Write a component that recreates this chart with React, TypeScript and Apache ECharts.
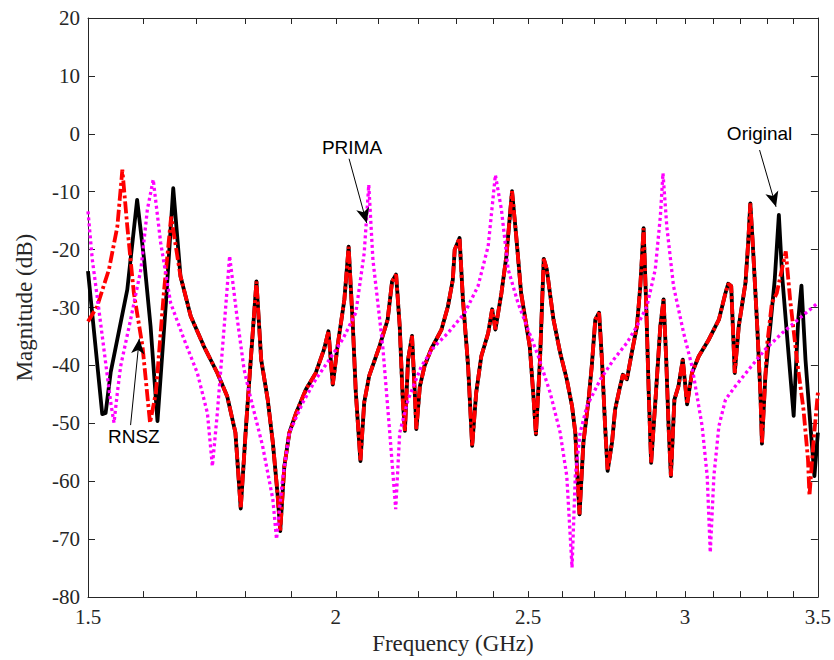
import { useEffect, useRef } from "react";
import * as echarts from "echarts";

// ---------- data (frequency in GHz, magnitude in dB) ----------
const originalLeftFreq = [1.5, 1.525, 1.531, 1.54, 1.57, 1.588, 1.601, 1.613, 1.626, 1.642, 1.656];
const originalLeftMag = [-23.7, -48.4, -48.2, -41.2, -26.9, -11.4, -21.7, -33.2, -49.6, -29.2, -9.4];

const sharedFreq = [
  1.67, 1.69, 1.716, 1.743, 1.763, 1.78, 1.791, 1.802, 1.812, 1.824,
  1.834, 1.848, 1.859, 1.869, 1.875, 1.884, 1.895, 1.91, 1.932, 1.954,
  1.973, 1.983, 1.993, 2.004, 2.02, 2.03, 2.04, 2.047, 2.058, 2.067,
  2.079, 2.104, 2.124, 2.135, 2.145, 2.154, 2.162, 2.167, 2.175, 2.185,
  2.192, 2.196, 2.205, 2.217, 2.234, 2.261, 2.278, 2.291, 2.296, 2.309,
  2.318, 2.332, 2.343, 2.354, 2.368, 2.387, 2.398, 2.407, 2.424, 2.438,
  2.454, 2.466, 2.48, 2.505, 2.515, 2.523, 2.535, 2.546, 2.555, 2.575,
  2.595, 2.615, 2.631, 2.641, 2.648, 2.654, 2.666, 2.682, 2.692, 2.703,
  2.715, 2.724, 2.734, 2.742, 2.756, 2.766, 2.78, 2.791, 2.804, 2.82,
  2.837, 2.848, 2.859, 2.868, 2.876, 2.884, 2.898, 2.915, 2.926, 2.935,
  2.943, 2.951, 2.963, 2.977, 2.992, 3.007, 3.024, 3.048, 3.084, 3.12,
  3.144, 3.154, 3.165, 3.178, 3.193, 3.218, 3.228, 3.236, 3.245, 3.262,
  3.274, 3.28,
];
const sharedMag = [
  -24.6, -31.5, -36.7, -41.3, -45.3, -51.6, -64.7, -50.5, -39, -25.5,
  -39, -45.9, -53.3, -62, -68.6, -57.4, -51.6, -48.2, -44.1, -41.3,
  -37.2, -34.1, -43.3, -36.7, -28.6, -19.5, -33.2, -44.7, -56.5, -46.4,
  -41.8, -36.7, -32.1, -25.5, -24.3, -33.2, -46.4, -51.3, -39, -34.9,
  -44.7, -51, -43.6, -40.1, -37.2, -33.8, -29.8, -25.2, -20, -18,
  -28.6, -40.1, -53.9, -44.7, -38.4, -34.4, -30.3, -33.8, -27.5, -21.1,
  -9.9, -17.7, -27.5, -36.7, -44.7, -51.9, -39, -21.6, -23.4, -32.1,
  -37.8, -42.4, -47, -51.6, -59.7, -65.7, -53.3, -45.9, -40.1, -32.1,
  -30.9, -39, -50.5, -58.2, -53.3, -47.6, -44.1, -41.6, -42.4, -37.8,
  -33.2, -26.3, -16.3, -30.3, -44.7, -56.8, -46.4, -33.2, -28.6, -39,
  -50.5, -59.1, -45.9, -43.6, -39, -46.7, -41.3, -38.4, -35.5, -32.1,
  -27.5, -25.9, -26.3, -41.3, -33.2, -25.7, -18.8, -12, -18.8, -33.2,
  -44.7, -53.5,
];

const originalRightFreq = [3.293, 3.312, 3.329, 3.345, 3.358, 3.377, 3.403, 3.421, 3.434, 3.45, 3.47, 3.486, 3.5];
const originalRightMag = [-41.8, -33.2, -25.2, -14.0, -24.6, -34.9, -48.7, -32.1, -26.2, -39, -50.5, -59.1, -51.6];

const rnszLeftFreq = [1.5, 1.516, 1.537, 1.552, 1.561, 1.57, 1.582, 1.598, 1.612, 1.623, 1.638, 1.652];
const rnszLeftMag = [-32.4, -29.8, -23.4, -16, -6.2, -16, -27.5, -36.7, -49.9, -44.7, -27.5, -14.3];

const rnszRightFreq = [3.299, 3.318, 3.337, 3.354, 3.372, 3.389, 3.416, 3.442, 3.46, 3.466, 3.482, 3.5];
const rnszRightMag = [-36.7, -29.2, -27.5, -24, -20.3, -28.6, -39, -47.6, -56.2, -62.5, -53.3, -44.7];

const primaFreq = [
  1.5, 1.5075, 1.519, 1.534, 1.541, 1.546, 1.552, 1.558, 1.576, 1.595,
  1.607, 1.618, 1.632, 1.651, 1.677, 1.703, 1.723, 1.733, 1.743, 1.757,
  1.768, 1.784, 1.798, 1.809, 1.837, 1.859, 1.867, 1.88, 1.895, 1.925,
  1.954, 1.985, 2.016, 2.047, 2.067, 2.078, 2.088, 2.112, 2.128, 2.144,
  2.154, 2.175, 2.209, 2.243, 2.278, 2.323, 2.359, 2.387, 2.4, 2.407,
  2.424, 2.443, 2.471, 2.5, 2.53, 2.565, 2.595, 2.615, 2.622, 2.631,
  2.641, 2.656, 2.677, 2.719, 2.761, 2.804, 2.837, 2.87, 2.898, 2.915,
  2.924, 2.937, 2.96, 2.995, 3.024, 3.06, 3.078, 3.089, 3.102, 3.12,
  3.144, 3.18, 3.23, 3.293, 3.358, 3.436, 3.5,
];
const primaMag = [
  -13.4, -21.7, -30.3, -41.8, -47, -49.9, -44.7, -40.1, -32.1, -23.4,
  -13.1, -7.9, -18.8, -29.2, -35.5, -41.3, -48.2, -57.4, -48.2, -33.2,
  -21.1, -32.1, -40.7, -44.7, -53.9, -63.1, -70, -59.7, -51.6, -46.4,
  -42.4, -39, -35.5, -30.9, -20.6, -8.8, -21.7, -36.7, -50.5, -64.8,
  -51.6, -45.9, -40.1, -36.7, -34.4, -30.9, -26.3, -19.4, -11.4, -7.1,
  -13.1, -23.4, -29.2, -33.8, -38.4, -44.7, -51.6, -59.1, -66, -74.9,
  -59.1, -51.6, -47, -42.4, -39, -36.1, -33.2, -29.8, -23.4, -14.3,
  -6.8, -16, -26.3, -34.4, -40.1, -50.5, -59.1, -72.3, -59.1, -50.5,
  -45.9, -43.6, -40.7, -37.2, -34.4, -31.5, -29.2,
];

const xMajorTicks = [1.5, 2, 2.5, 3, 3.5];
const xMinorTicks = [
  1.5, 1.6, 1.7, 1.8, 1.9, 2.0, 2.1, 2.2, 2.3, 2.4, 2.5,
  2.6, 2.7, 2.8, 2.9, 3.0, 3.1, 3.2, 3.3, 3.4, 3.5,
];
const yMin = -80;
const yMax = 20;
const yStep = 10;

// annotations (data coordinates: frequency GHz, magnitude dB)
const annotationLabels = ["Original", "PRIMA", "RNSZ"];
const annotationTextPos = [[3.271, 0.0], [2.038, -2.3], [1.582, -52.2]];
const annotationArrowFrom = [[3.271, -2.8], [2.031, -4.3], [1.576, -50.3]];
const annotationArrowTo = [[3.334, -12.6], [2.073, -15.4], [1.592, -35.4]];

const lx = (f: number) => Math.log(f);
const toPoints = (fs: number[], ms: number[]) => fs.map((f, i) => [lx(f), ms[i]]);

export default function App() {
  const ref = useRef<HTMLDivElement>(null);

  useEffect(() => {
    if (!ref.current) return;
    const chart = echarts.init(ref.current, undefined, { renderer: "svg" });

    const originalData = toPoints(
      [...originalLeftFreq, ...sharedFreq, ...originalRightFreq],
      [...originalLeftMag, ...sharedMag, ...originalRightMag]
    );
    const rnszData = toPoints(
      [...rnszLeftFreq, ...sharedFreq, ...rnszRightFreq],
      [...rnszLeftMag, ...sharedMag, ...rnszRightMag]
    );
    const primaData = toPoints(primaFreq, primaMag);

    const axisColor = "#262626";
    const serif = "Liberation Serif";
    const xMin = lx(xMajorTicks[0]);
    const xMax = lx(xMajorTicks[xMajorTicks.length - 1]);

    const xCommon = {
      type: "value",
      min: xMin,
      max: xMax,
      splitLine: { show: false },
      axisLine: { show: true, onZero: false, lineStyle: { color: axisColor, width: 1 } },
      axisTick: {
        show: true,
        inside: true,
        length: 6,
        lineStyle: { color: axisColor },
        customValues: xMinorTicks.map(lx),
      },
    };
    const yCommon = {
      type: "value",
      min: yMin,
      max: yMax,
      interval: yStep,
      splitLine: { show: false },
      axisLine: { show: true, onZero: false, lineStyle: { color: axisColor, width: 1 } },
      axisTick: { show: true, inside: true, length: 7, lineStyle: { color: axisColor } },
    };

    const option: any = {
      animation: false,
      backgroundColor: "#ffffff",
      grid: { left: 88, right: 16, top: 18, bottom: 62, containLabel: false },
      xAxis: [
        {
          ...xCommon,
          position: "bottom",
          name: "Frequency (GHz)",
          nameLocation: "middle",
          nameGap: 34,
          nameTextStyle: { fontFamily: serif, fontSize: 23, color: axisColor },
          axisLabel: {
            show: true,
            margin: 9,
            fontFamily: serif,
            fontSize: 21,
            color: axisColor,
            customValues: xMajorTicks.map(lx),
            formatter: (v: number) => String(Math.round(Math.exp(v) * 10) / 10),
          },
        },
        {
          ...xCommon,
          position: "top",
          axisLabel: { show: false },
        },
      ],
      yAxis: [
        {
          ...yCommon,
          position: "left",
          name: "Magnitude (dB)",
          nameLocation: "middle",
          nameGap: 52,
          nameRotate: 90,
          nameTextStyle: { fontFamily: serif, fontSize: 23, color: axisColor },
          axisLabel: { show: true, margin: 8, fontFamily: serif, fontSize: 21, color: axisColor },
        },
        {
          ...yCommon,
          position: "right",
          axisLabel: { show: false },
        },
      ],
      series: [
        {
          name: "Original",
          type: "line",
          data: originalData,
          symbol: "none",
          silent: true,
          lineStyle: { color: "#000000", width: 3.8, join: "round" },
          z: 2,
        },
        {
          name: "RNSZ",
          type: "line",
          data: rnszData,
          symbol: "none",
          silent: true,
          lineStyle: { color: "#ff0000", width: 3.8, type: [12, 3, 3, 3], cap: "butt" },
          z: 3,
        },
        {
          name: "PRIMA",
          type: "line",
          data: primaData,
          symbol: "none",
          silent: true,
          lineStyle: { color: "#ff00ff", width: 3.3, type: [3, 3], cap: "butt" },
          z: 4,
          markLine: {
            silent: true,
            symbol: ["none", "arrow"],
            symbolSize: [10, 15],
            label: { show: false },
            lineStyle: { color: "#000000", width: 1, type: "solid" },
            emphasis: { disabled: true },
            data: annotationArrowFrom.map((from, i) => [
              { coord: [lx(from[0]), from[1]] },
              { coord: [lx(annotationArrowTo[i][0]), annotationArrowTo[i][1]] },
            ]),
          },
          markPoint: {
            silent: true,
            symbol: "circle",
            symbolSize: 0,
            itemStyle: { color: "transparent" },
            label: {
              show: true,
              position: "inside",
              color: "#000000",
              fontFamily: "Liberation Sans",
              fontSize: 19,
            },
            data: annotationLabels.map((text, i) => ({
              coord: [lx(annotationTextPos[i][0]), annotationTextPos[i][1]],
              label: { formatter: text },
            })),
          },
        },
      ],
    };

    chart.setOption(option);
    return () => chart.dispose();
  }, []);

  return (
    <div
      ref={ref}
      style={{ position: "fixed", left: 0, top: 0, width: 834, height: 660, background: "#fff" }}
    />
  );
}
